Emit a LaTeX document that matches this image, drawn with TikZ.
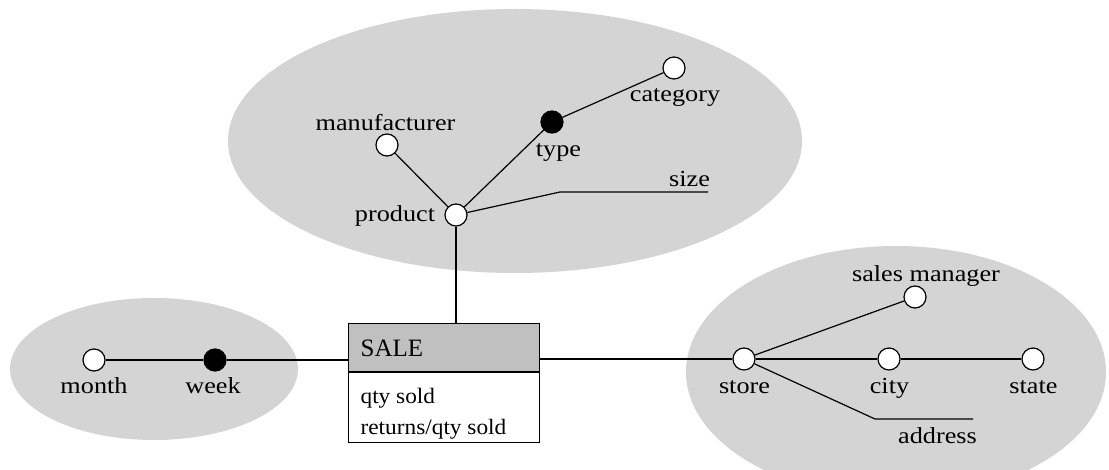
\documentclass[tikz,border=0pt]{standalone}
\usepackage{fontspec}
\setmainfont{Liberation Serif}[FakeStretch=1.14]
\newfontfamily\boxfont{Liberation Serif}[FakeStretch=1.06]
\newfontfamily\salefont{Liberation Serif}
\definecolor{ellgray}{RGB}{212,212,212}
\definecolor{hdrgray}{RGB}{192,192,192}
\begin{document}
\begin{tikzpicture}[x=1pt,y=-1pt,line width=1.2pt,
  attr/.style={circle,draw=black,fill=white,minimum size=22pt,inner sep=0pt,line width=1.2pt},
  keyattr/.style={attr,fill=black},
  lbl/.style={anchor=base,inner sep=0pt,font=\fontsize{23pt}{27pt}\selectfont},
  boxtxt/.style={anchor=base west,inner sep=0pt,font=\boxfont\fontsize{22pt}{26pt}\selectfont},
  grp/.style={fill=ellgray,draw=none},
  link/.style={draw=black,line width=1.2pt}]
\useasboundingbox (0,0) rectangle (1109,470);
\clip (0,0) rectangle (1109,470);
\fill[white] (0,0) rectangle (1109,470);

% groups
\fill[grp] (515,141) ellipse [x radius=287, y radius=132];
\fill[grp] (154,369) ellipse [x radius=144, y radius=71];
\fill[grp] (896,372) ellipse [x radius=210, y radius=126];

% fact box
\fill[hdrgray] (348,323) rectangle (539,372);
\node[draw=black,line width=1.2pt,minimum width=191pt,minimum height=119pt,inner sep=0pt,anchor=north west] (sale) at (348,323) {};
\draw[link] (sale.west |- 0,372) -- (sale.east |- 0,372);
\node[anchor=base west,inner sep=0pt,font=\salefont\fontsize{25pt}{28pt}\selectfont] (saletitle) at (360,357) {SALE};
\node[boxtxt] (m1) at (360,403) {qty sold};
\node[boxtxt] (m2) at (360,435) {returns/qty sold};

% product dimension
\node[attr] (product) at (456,215) {};
\node[attr] (manufacturer) at (387,145) {};
\node[keyattr] (type) at (552,122) {};
\node[attr] (category) at (674,68) {};
\coordinate (sizecorner) at (560,192);
\coordinate (sizeend) at (708,192);

\node[lbl] (lproduct) at (395,222) {product};
\node[lbl] (lmanufacturer) at (385.5,131) {manufacturer};
\node[lbl] (ltype) at (558.5,157) {type};
\node[lbl] (lcategory) at (675,102) {category};
\node[lbl] (lsize) at (689.5,187) {size};

\draw[link] (product) -- (manufacturer);
\draw[link] (product) -- (type);
\draw[link] (type) -- (category);
\draw[link] (product) -- (sizecorner) -- (sizeend);
\draw[link] (product) -- (product |- sale.north);

% time dimension
\node[attr] (month) at (94,360) {};
\node[keyattr] (week) at (215,360) {};
\node[lbl] (lmonth) at (94,394) {month};
\node[lbl] (lweek) at (213,394) {week};
\draw[link] (month) -- (week);
\draw[link] (week) -- (sale.west |- week);

% store dimension
\node[attr] (store) at (744,359) {};
\node[attr] (city) at (889,359) {};
\node[attr] (state) at (1033,359) {};
\node[attr] (salesmgr) at (915,297) {};
\coordinate (addrcorner) at (875,419);
\coordinate (addrend) at (973,419);
\node[lbl] (lstore) at (744.5,394) {store};
\node[lbl] (lcity) at (889.5,394) {city};
\node[lbl] (lstate) at (1033.5,394) {state};
\node[lbl] (lsalesmgr) at (926,282) {sales manager};
\node[lbl] (laddress) at (937.5,443) {address};
\draw[link] (sale.east |- store) -- (store);
\draw[link] (store) -- (city);
\draw[link] (city) -- (state);
\draw[link] (store) -- (salesmgr);
\draw[link] (store) -- (addrcorner) -- (addrend);
\end{tikzpicture}
\end{document}
